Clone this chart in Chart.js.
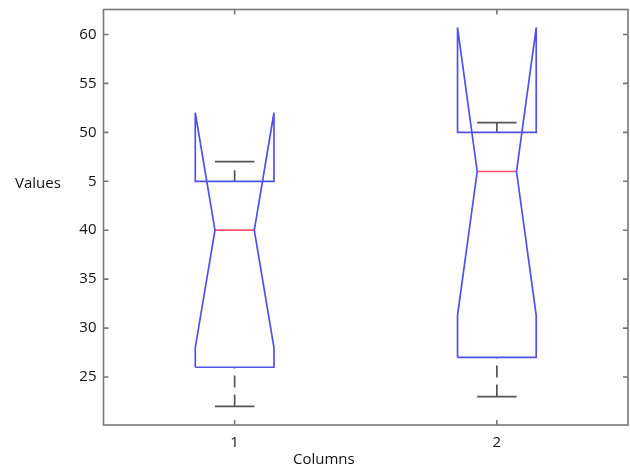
<!DOCTYPE html>
<html>
<head>
<meta charset="utf-8">
<script src="https://cdn.jsdelivr.net/npm/chart.js"></script>
<style>
  html, body { margin: 0; padding: 0; background: #fff; }
</style>
</head>
<body>
<canvas id="boxChart" width="630" height="469"></canvas>
<script>
// valeurs
const columns = [1, 2];
const whiskerLow = [22, 23];
const q1 = [26, 27];
const median = [40, 46];
const q3 = [45, 50];
const whiskerHigh = [47, 51];
const notchLow = [28, 31.3];
const notchHigh = [52, 60.7];
const yTickValues = [25, 30, 35, 40, 45, 50, 55, 60];
const yTickLabels = ['25', '30', '35', '40', '5', '50', '55', '60'];
const xTickLabels = ['1', '2'];

const boxHalf = 0.15;
const notchHalf = 0.075;
const blue = 'rgb(80, 80, 235)';
const red = 'rgb(255, 85, 110)';
const dark = '#555';
const font = { family: 'Open Sans', size: 15 };

const datasets = [];
columns.forEach((c, i) => {
  const l = c - boxHalf, r = c + boxHalf;
  // contour de la boite avec encoche
  datasets.push({
    data: [
      { x: l, y: q1[i] }, { x: l, y: notchLow[i] }, { x: c - notchHalf, y: median[i] },
      { x: l, y: notchHigh[i] }, { x: l, y: q3[i] }, { x: r, y: q3[i] },
      { x: r, y: notchHigh[i] }, { x: c + notchHalf, y: median[i] }, { x: r, y: notchLow[i] },
      { x: r, y: q1[i] }, { x: l, y: q1[i] }
    ],
    borderColor: blue, borderWidth: 1.7
  });
  // mediane
  datasets.push({
    data: [{ x: c - notchHalf, y: median[i] }, { x: c + notchHalf, y: median[i] }],
    borderColor: red, borderWidth: 1.7
  });
  // moustaches
  datasets.push({
    data: [{ x: c, y: q3[i] }, { x: c, y: whiskerHigh[i] }],
    borderColor: dark, borderWidth: 1.7, borderDash: [11, 8]
  });
  datasets.push({
    data: [{ x: c, y: whiskerLow[i] }, { x: c, y: q1[i] }],
    borderColor: dark, borderWidth: 1.7, borderDash: [12, 7]
  });
  [whiskerLow[i], whiskerHigh[i]].forEach(v => {
    datasets.push({
      data: [{ x: c - notchHalf, y: v }, { x: c + notchHalf, y: v }],
      borderColor: dark, borderWidth: 1.7
    });
  });
});
datasets.forEach(d => { d.showLine = true; d.pointRadius = 0; d.fill = false; d.tension = 0; });

// cadre et graduations vers l'interieur (style MATLAB)
const framePlugin = {
  id: 'frame',
  afterDraw(chart) {
    const { ctx, chartArea: a, scales } = chart;
    ctx.save();
    ctx.strokeStyle = '#777';
    ctx.lineWidth = 1.6;
    ctx.strokeRect(a.left, a.top, a.right - a.left, a.bottom - a.top);
    ctx.beginPath();
    yTickValues.forEach(v => {
      const y = scales.y.getPixelForValue(v);
      ctx.moveTo(a.left, y); ctx.lineTo(a.left + 5, y);
      ctx.moveTo(a.right, y); ctx.lineTo(a.right - 5, y);
    });
    columns.forEach(v => {
      const x = scales.x.getPixelForValue(v);
      ctx.moveTo(x, a.bottom); ctx.lineTo(x, a.bottom - 5);
      ctx.moveTo(x, a.top); ctx.lineTo(x, a.top + 5);
    });
    ctx.stroke();
    // titres des axes
    ctx.fillStyle = '#111';
    ctx.font = font.size + 'px ' + font.family;
    ctx.textBaseline = 'middle';
    ctx.textAlign = 'left';
    ctx.fillText('Values', 15, scales.y.getPixelForValue(45) + 2);
    ctx.textAlign = 'center';
    ctx.fillText('Columns', a.left + 0.42 * (a.right - a.left), 460);
    ctx.restore();
  }
};

new Chart(document.getElementById('boxChart').getContext('2d'), {
  type: 'scatter',
  data: { datasets },
  options: {
    responsive: false,
    animation: false,
    devicePixelRatio: 1,
    layout: { padding: { top: 9.5, right: 2, left: 0, bottom: 0 } },
    plugins: { legend: { display: false }, tooltip: { enabled: false } },
    scales: {
      x: {
        type: 'linear', min: 0.5, max: 2.5,
        afterBuildTicks: s => { s.ticks = columns.map(v => ({ value: v })); },
        afterFit: s => { s.height = 44; s.paddingLeft = 0; s.paddingRight = 0; },
        grid: { display: false, drawTicks: false },
        border: { display: false },
        ticks: {
          autoSkip: false, maxRotation: 0, padding: 9, color: '#111', font,
          callback: v => xTickLabels[columns.indexOf(v)]
        }
      },
      y: {
        min: 20.1, max: 62.55,
        afterBuildTicks: s => { s.ticks = yTickValues.map(v => ({ value: v })); },
        afterFit: s => { s.width = 103.5; s.paddingTop = 0; s.paddingBottom = 0; },
        grid: { display: false, drawTicks: false },
        border: { display: false },
        ticks: {
          autoSkip: false, padding: 7, color: '#111', font,
          callback: v => yTickLabels[yTickValues.indexOf(v)]
        }
      }
    }
  },
  plugins: [framePlugin]
});
</script>
</body>
</html>
